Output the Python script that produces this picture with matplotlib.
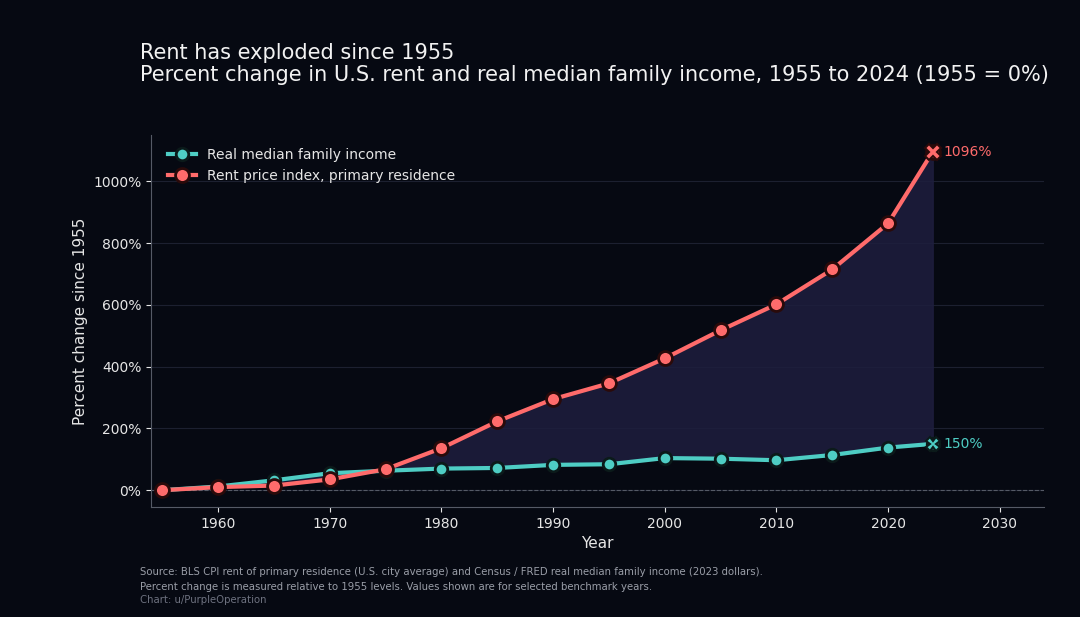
import matplotlib.pyplot as plt
import numpy as np

years = [1955, 1960, 1965, 1970, 1975, 1980, 1985, 1990, 1995, 2000, 2005, 2010, 2015, 2020, 2024]
rent = [0, 10, 15, 35, 68, 136, 223, 295, 346, 427, 518, 602, 715, 864, 1096]
income = [0, 12, 32, 55, 63, 70, 72, 82, 84, 104, 102, 97, 114, 138, 150]

bg = '#060912'
teal = '#4ecdc4'
red = '#ff6b6b'
txt = '#e6e6e6'

fig = plt.figure(figsize=(10.8, 6.17), dpi=100, facecolor=bg)
ax = fig.add_axes([0.14, 0.178, 0.827, 0.603], facecolor=bg)

ax.fill_between(years, income, rent, color='#1e1e3e', alpha=0.85, zorder=1)
ax.axhline(0, color='#555a66', lw=0.8, ls='--', zorder=1)
ax.plot(years, income, color=teal, lw=3, marker='o', ms=9, mfc=teal,
        mec='#0b1a1a', mew=2, label='Real median family income', zorder=3)
ax.plot(years, rent, color=red, lw=3, marker='o', ms=10, mfc=red,
        mec='#2a0a0a', mew=2, label='Rent price index, primary residence', zorder=4)
ax.plot(years[-1], rent[-1], marker='X', ms=11, color=red, mec='#2a0a0a', mew=1.5, zorder=5)
ax.plot(years[-1], income[-1], marker='X', ms=10, color=teal, mec='#0b1a1a', mew=1.5, zorder=5)
ax.text(years[-1] + 1, rent[-1], f'{rent[-1]}%', color=red, fontsize=10, va='center')
ax.text(years[-1] + 1, income[-1], f'{income[-1]}%', color=teal, fontsize=10, va='center')

ax.set_xlim(1954, 2034)
ax.set_ylim(-55, 1150)
ax.set_xticks(range(1960, 2031, 10))
ax.set_yticks(range(0, 1001, 200))
ax.set_yticklabels([f'{v}%' for v in range(0, 1001, 200)])
ax.grid(axis='y', color='#1c2030', lw=0.8)
ax.set_axisbelow(True)
ax.tick_params(colors=txt, labelsize=10)
for s in ['top', 'right']:
    ax.spines[s].set_visible(False)
for s in ['left', 'bottom']:
    ax.spines[s].set_color('#555a66')
ax.set_xlabel('Year', color=txt, fontsize=11)
ax.set_ylabel('Percent change since 1955', color=txt, fontsize=11)

leg = ax.legend(loc='upper left', frameon=False, fontsize=10, labelcolor=txt,
                bbox_to_anchor=(0.005, 1.0))

fig.text(0.13, 0.905, 'Rent has exploded since 1955', color='#f2f2f2', fontsize=15)
fig.text(0.13, 0.868, 'Percent change in U.S. rent and real median family income, 1955 to 2024 (1955 = 0%)',
         color='#f2f2f2', fontsize=15)
fig.text(0.13, 0.068, 'Source: BLS CPI rent of primary residence (U.S. city average) and Census / FRED real median family income (2023 dollars).',
         color='#9a9ea8', fontsize=7.3)
fig.text(0.13, 0.043, 'Percent change is measured relative to 1955 levels. Values shown are for selected benchmark years.',
         color='#9a9ea8', fontsize=7.3)
fig.text(0.13, 0.023, 'Chart: u/PurpleOperation', color='#6e7280', fontsize=7.3)

fig.savefig('out.png', dpi=100, facecolor=bg)
